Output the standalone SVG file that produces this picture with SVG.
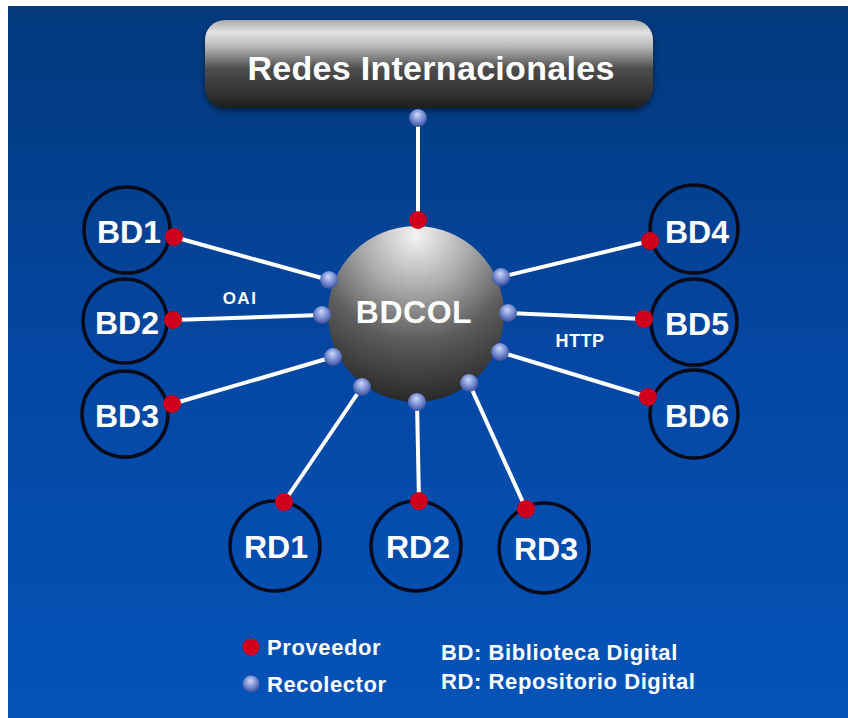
<svg xmlns="http://www.w3.org/2000/svg" width="848" height="718" viewBox="0 0 848 718">
<defs>
<linearGradient id="bg" x1="0" y1="0" x2="0" y2="1">
<stop offset="0" stop-color="#03397c"/>
<stop offset="0.5" stop-color="#0447a3"/>
<stop offset="1" stop-color="#0553b8"/>
</linearGradient>
<linearGradient id="box" x1="0" y1="0" x2="0" y2="1">
<stop offset="0" stop-color="#a9a9a9"/>
<stop offset="0.14" stop-color="#e2e2e2"/>
<stop offset="0.3" stop-color="#b8b8b8"/>
<stop offset="0.55" stop-color="#4e4e4e"/>
<stop offset="0.8" stop-color="#353535"/>
<stop offset="1" stop-color="#1e1e1e"/>
</linearGradient>
<radialGradient id="sphere" cx="0.5" cy="0.05" r="1.0" fx="0.5" fy="0.05">
<stop offset="0" stop-color="#f4f4f4"/>
<stop offset="0.32" stop-color="#a8a8a8"/>
<stop offset="0.6" stop-color="#5c5c5c"/>
<stop offset="0.9" stop-color="#303030"/>
<stop offset="1" stop-color="#202020"/>
</radialGradient>
<radialGradient id="ball" cx="0.5" cy="0.4" r="0.6" fx="0.45" fy="0.3">
<stop offset="0" stop-color="#cfd9f6"/>
<stop offset="0.5" stop-color="#8196d8"/>
<stop offset="1" stop-color="#3a4d9c"/>
</radialGradient>
<filter id="shadow" x="-10%" y="-20%" width="120%" height="150%">
<feGaussianBlur in="SourceAlpha" stdDeviation="3"/>
<feOffset dx="0" dy="3" result="b"/>
<feComponentTransfer><feFuncA type="linear" slope="0.5"/></feComponentTransfer>
<feMerge><feMergeNode/><feMergeNode in="SourceGraphic"/></feMerge>
</filter>
</defs>
<style>
.lbl{font-family:"Liberation Sans",Arial,sans-serif;font-weight:bold;fill:#ffffff;text-anchor:middle}
.ring{fill:none;stroke:#0a0a18;stroke-width:3.5}
.conn{stroke:#ffffff;stroke-width:4;stroke-linecap:round}
.prov{fill:#d0001c}
.rec{fill:url(#ball)}
.leg{font-family:"Liberation Sans",Arial,sans-serif;font-weight:bold;fill:#ffffff;font-size:22px;letter-spacing:0.6px}
.proto{font-family:"Liberation Sans",Arial,sans-serif;fill:#ffffff;font-weight:bold}
</style>

<rect x="8" y="6" width="840" height="712" fill="url(#bg)"/>

<g id="redes">
<rect x="205" y="20" width="448" height="88" rx="20" ry="20" fill="url(#box)" filter="url(#shadow)"/>
<text class="lbl" x="431" y="80" font-size="34" letter-spacing="0.3">Redes Internacionales</text>
</g>

<g id="connectors">
<line class="conn" x1="418" y1="118" x2="418" y2="219"/>
<line class="conn" x1="174" y1="237" x2="329" y2="280"/>
<line class="conn" x1="173" y1="320" x2="322" y2="315"/>
<line class="conn" x1="172" y1="404" x2="333" y2="357"/>
<line class="conn" x1="650" y1="241" x2="501" y2="277"/>
<line class="conn" x1="644" y1="319" x2="508" y2="313"/>
<line class="conn" x1="648" y1="397" x2="500" y2="352"/>
<line class="conn" x1="284" y1="502" x2="362" y2="387"/>
<line class="conn" x1="419" y1="501" x2="417" y2="402"/>
<line class="conn" x1="526" y1="509" x2="469" y2="383"/>
<text class="proto" x="240" y="304" font-size="17" text-anchor="middle" letter-spacing="1.5">OAI</text>
<text class="proto" x="580" y="347" font-size="18" text-anchor="middle" letter-spacing="0.5">HTTP</text>
</g>

<g id="bdcol">
<circle cx="416" cy="314" r="88" fill="url(#sphere)"/>
<text class="lbl" x="414" y="323" font-size="32" letter-spacing="0.5">BDCOL</text>
</g>

<g id="bd1"><circle class="ring" cx="127" cy="230" r="43"/><text class="lbl" x="129" y="243" font-size="32">BD1</text></g>
<g id="bd2"><circle class="ring" cx="125" cy="321" r="42"/><text class="lbl" x="127" y="334" font-size="32">BD2</text></g>
<g id="bd3"><circle class="ring" cx="125" cy="414" r="43"/><text class="lbl" x="127" y="427" font-size="32">BD3</text></g>
<g id="bd4"><circle class="ring" cx="694" cy="229" r="44"/><text class="lbl" x="697" y="243" font-size="32">BD4</text></g>
<g id="bd5"><circle class="ring" cx="694" cy="322" r="43"/><text class="lbl" x="697" y="335" font-size="32">BD5</text></g>
<g id="bd6"><circle class="ring" cx="694" cy="414" r="44"/><text class="lbl" x="697" y="427" font-size="32">BD6</text></g>
<g id="rd1"><circle class="ring" cx="275" cy="546" r="45"/><text class="lbl" x="276" y="558" font-size="32">RD1</text></g>
<g id="rd2"><circle class="ring" cx="416" cy="546" r="45"/><text class="lbl" x="418" y="558" font-size="32">RD2</text></g>
<g id="rd3"><circle class="ring" cx="544" cy="548" r="45"/><text class="lbl" x="546" y="560" font-size="32">RD3</text></g>

<g id="ports">
<circle class="rec" cx="418" cy="118" r="9"/>
<circle class="prov" cx="418" cy="220" r="9"/>
<circle class="prov" cx="174" cy="237" r="9"/>
<circle class="prov" cx="173" cy="320" r="9"/>
<circle class="prov" cx="172" cy="404" r="9"/>
<circle class="prov" cx="650" cy="241" r="9"/>
<circle class="prov" cx="644" cy="319" r="9"/>
<circle class="prov" cx="648" cy="397" r="9"/>
<circle class="prov" cx="284" cy="502" r="9"/>
<circle class="prov" cx="419" cy="501" r="9"/>
<circle class="prov" cx="526" cy="509" r="9"/>
<circle class="rec" cx="329" cy="280" r="9"/>
<circle class="rec" cx="322" cy="315" r="9"/>
<circle class="rec" cx="333" cy="357" r="9"/>
<circle class="rec" cx="501" cy="277" r="9"/>
<circle class="rec" cx="508" cy="313" r="9"/>
<circle class="rec" cx="500" cy="352" r="9"/>
<circle class="rec" cx="362" cy="387" r="9"/>
<circle class="rec" cx="417" cy="402" r="9"/>
<circle class="rec" cx="469" cy="383" r="9"/>
</g>

<g id="legend">
<circle class="prov" cx="251" cy="647" r="8.5"/>
<text class="leg" x="267" y="655">Proveedor</text>
<circle class="rec" cx="251" cy="684" r="8.5"/>
<text class="leg" x="267" y="692">Recolector</text>
<text class="leg" x="441" y="660">BD: Biblioteca Digital</text>
<text class="leg" x="441" y="689">RD: Repositorio Digital</text>
</g>
</svg>
